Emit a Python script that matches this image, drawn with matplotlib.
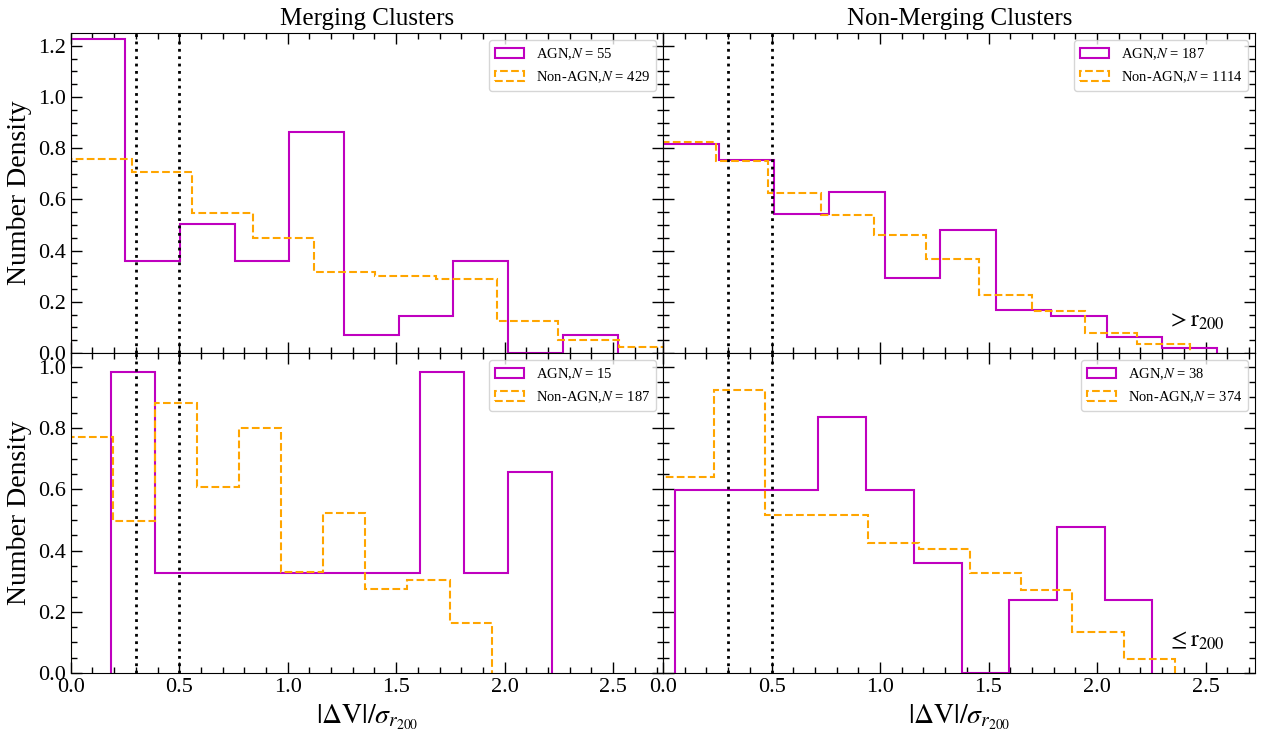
import numpy as np
import matplotlib.pyplot as plt

plt.rcParams['font.family'] = ['Liberation Serif', 'DejaVu Serif']
plt.rcParams['mathtext.fontset'] = 'stix'

# number densities per bin (10 bins each), plus bin range
merg_out_agn = [1.227, 0.36, 0.505, 0.36, 0.865, 0.072, 0.145, 0.36, 0.0, 0.072]
merg_out_agn_rng = (0.0, 2.52)
merg_out_non = [0.757, 0.707, 0.548, 0.45, 0.316, 0.30, 0.29, 0.125, 0.05, 0.025]
merg_out_non_rng = (0.0, 2.806)
nonm_out_agn = [0.816, 0.753, 0.544, 0.628, 0.293, 0.481, 0.167, 0.146, 0.063, 0.021]
nonm_out_agn_rng = (0.0, 2.555)
nonm_out_non = [0.825, 0.750, 0.625, 0.540, 0.462, 0.366, 0.226, 0.166, 0.078, 0.037]
nonm_out_non_rng = (0.0, 2.428)
merg_in_agn = [0.983, 0.328, 0.328, 0.328, 0.328, 0.328, 0.328, 0.983, 0.328, 0.655]
merg_in_agn_rng = (0.184, 2.218)
merg_in_non = [0.772, 0.496, 0.882, 0.606, 0.799, 0.331, 0.524, 0.276, 0.303, 0.165]
merg_in_non_rng = (0.0, 1.94)
nonm_in_agn = [0.598, 0.598, 0.598, 0.837, 0.598, 0.359, 0.0, 0.239, 0.478, 0.239]
nonm_in_agn_rng = (0.056, 2.255)
nonm_in_non = [0.641, 0.923, 0.517, 0.517, 0.426, 0.405, 0.327, 0.27, 0.135, 0.046]
nonm_in_non_rng = (0.0, 2.358)

n_agn = [55, 187, 15, 38]
n_non = [429, 1114, 187, 374]
col_titles = ['Merging Clusters', 'Non-Merging Clusters']
row_tags = [r'$>\mathrm{r}_{200}$', r'$\leq\mathrm{r}_{200}$']
row_ymax = [1.25, 1.045]
cuts = [0.3, 0.5]

agn_sets = [(merg_out_agn, merg_out_agn_rng), (nonm_out_agn, nonm_out_agn_rng),
            (merg_in_agn, merg_in_agn_rng), (nonm_in_agn, nonm_in_agn_rng)]
non_sets = [(merg_out_non, merg_out_non_rng), (nonm_out_non, nonm_out_non_rng),
            (merg_in_non, merg_in_non_rng), (nonm_in_non, nonm_in_non_rng)]


def draw_hist(ax, dens, rng, **kw):
    edges = np.linspace(rng[0], rng[1], len(dens) + 1)
    ax.hist(edges[:-1], bins=edges, weights=dens, histtype='step', **kw)


fig, axes = plt.subplots(2, 2, figsize=(12.63, 7.34), dpi=100, sharex=True)
fig.subplots_adjust(left=0.056, right=0.994, top=0.955, bottom=0.083,
                    wspace=0, hspace=0)

for i, ax in enumerate(axes.flat):
    row, col = divmod(i, 2)
    dens, rng = agn_sets[i]
    draw_hist(ax, dens, rng, color='m', lw=1.5, label=r'AGN,$N$ = %d' % n_agn[i])
    dens, rng = non_sets[i]
    draw_hist(ax, dens, rng, color='orange', lw=1.5, ls='--',
              label=r'Non-AGN,$N$ = %d' % n_non[i])
    for c in cuts:
        ax.axvline(c, color='k', ls=':', lw=2)

    ymax = row_ymax[row]
    ax.set_xlim(0, 2.73)
    ax.set_ylim(0, ymax)
    ax.set_xticks(np.arange(0, 2.6, 0.5))
    ax.set_xticks(np.arange(0, 2.75, 0.1), minor=True)
    ax.set_yticks(np.arange(0, ymax, 0.2))
    ax.set_yticks(np.arange(0, ymax, 0.05), minor=True)
    ax.tick_params(which='both', direction='in', top=True, right=True, labelsize=16)
    ax.tick_params(which='major', length=8, width=1)
    ax.tick_params(which='minor', length=4, width=1)
    if col == 1:
        ax.tick_params(labelleft=False)
    else:
        ax.set_ylabel('Number Density', fontsize=20)
    if row == 0:
        ax.set_title(col_titles[col], fontsize=18)
    else:
        ax.set_xlabel(r'$|\Delta \mathrm{V}|/\sigma_{r_{200}}$', fontsize=20)
    if col == 1:
        ax.text(0.9, 0.1, row_tags[row], transform=ax.transAxes, fontsize=17,
                ha='center', va='center')
    ax.legend(loc='upper right', fontsize=10.5)

fig.savefig('out.png', dpi=100)
